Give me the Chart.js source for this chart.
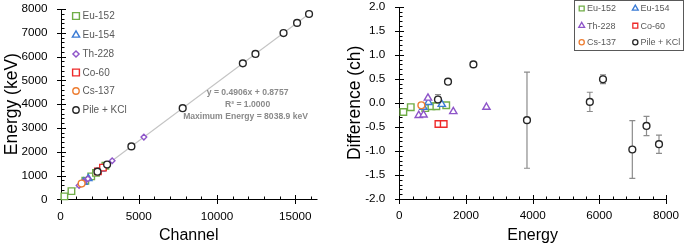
<!DOCTYPE html>
<html><head><meta charset="utf-8">
<script src="https://cdn.jsdelivr.net/npm/chart.js@4.4.1/dist/chart.umd.min.js"></script>
<style>
html,body{margin:0;padding:0;background:#fff;}
#wrap{position:relative;width:685px;height:245px;overflow:hidden;}
#c1{position:absolute;left:0;top:0;}
#c2{position:absolute;left:340px;top:0;}
</style></head><body>
<div id="wrap"><canvas id="c1" width="340" height="245"></canvas><canvas id="c2" width="345" height="245"></canvas></div>
<script>
// ---------- DATA ----------
const seriesNames = ['Eu-152', 'Eu-154', 'Th-228', 'Co-60', 'Cs-137', 'Pile + KCl'];

const eu152Energy  = [122, 344, 779, 964, 1112, 1408];
const eu152Channel = [247, 699, 1586, 1963, 2265, 2868];
const eu152Diff    = [-0.19, -0.09, -0.11, -0.07, -0.07, -0.05];

const eu154Energy  = [723, 873, 1274];
const eu154Channel = [1472, 1778, 2595];
const eu154Diff    = [-0.09, 0.01, -0.03];

const th228Energy  = [583, 727, 860, 1620, 2614];
const th228Channel = [1187, 1480, 1751, 3300, 5326];
const th228Diff    = [-0.26, -0.25, 0.10, -0.18, -0.09];

const co60Energy  = [1173, 1332];
const co60Channel = [2389, 2713];
const co60Diff    = [-0.44, -0.44];

const cs137Energy  = [662];
const cs137Channel = [1348];
const cs137Diff    = [-0.05];

const pileEnergy  = [1160, 1461, 2223, 3830, 5715, 6110, 6990, 7415, 7790];
const pileChannel = [2363, 2976, 4529, 7805, 11647, 12452, 14246, 15112, 15876];
const pileDiff    = [0.07, 0.44, 0.80, -0.36, 0.02, 0.49, -0.97, -0.48, -0.86];
const pileErr     = [0.10, 0.02, 0.02, 1.00, 0.20, 0.09, 0.60, 0.20, 0.19];

const fitSlope = [0.4906];
const fitIntercept = [0.8757];
const fitChannelRange = [0, 16000];
const fitLabels = ['y = 0.4906x + 0.8757', 'R\u00B2 = 1.0000', 'Maximum Energy = 8038.9 keV'];

const leftXTicks  = [0, 5000, 10000, 15000];
const leftYTicks  = [0, 1000, 2000, 3000, 4000, 5000, 6000, 7000, 8000];
const rightXTicks = [0, 2000, 4000, 6000, 8000];
const rightYTicks = [-2, -1.5, -1, -0.5, 0, 0.5, 1, 1.5, 2];

// ---------- STYLE ----------
const FONT = "'Liberation Sans', Arial, sans-serif";
const colors = ['#70AD47', '#3A7BD5', '#8E55C9', '#EE2A2A', '#ED7D31', '#262626'];
const leftStyles  = ['rect', 'triangle', 'rectRot', 'rect', 'circle', 'circle'];
const rightStyles = ['rect', 'triangle', 'triangle', 'rect', 'circle', 'circle'];
const radiusFor = {rect: 4.6, triangle: 4.2, rectRot: 2.8, circle: 3.4};

const chans = [eu152Channel, eu154Channel, th228Channel, co60Channel, cs137Channel, pileChannel];
const ens   = [eu152Energy, eu154Energy, th228Energy, co60Energy, cs137Energy, pileEnergy];
const diffs = [eu152Diff, eu154Diff, th228Diff, co60Diff, cs137Diff, pileDiff];

function drawMarker(ctx, style, r, x, y, color, lw) {
  ctx.save();
  ctx.fillStyle = '#fff'; ctx.strokeStyle = color; ctx.lineWidth = lw;
  Chart.helpers.drawPoint(ctx, {pointStyle: style, radius: r, rotation: 0, borderWidth: lw}, x, y);
  ctx.restore();
}

function axesPlugin(spec) {
  return {
    id: 'axesTicks',
    beforeDatasetsDraw(chart) {
      const {ctx, chartArea: a, scales: {x, y}} = chart;
      ctx.save();
      ctx.strokeStyle = '#000'; ctx.lineWidth = 1;
      const X0 = Math.round(a.left) + 0.5, Y0 = Math.round(a.bottom) + 0.5;
      const xEnd = Math.round(x.getPixelForValue(x.max)) + 0.5;
      const yTop = Math.round(y.getPixelForValue(y.max)) + 0.5;
      ctx.beginPath();
      ctx.moveTo(X0, yTop); ctx.lineTo(X0, Y0);
      ctx.moveTo(X0, Y0); ctx.lineTo(xEnd, Y0);
      ctx.stroke();
      ctx.beginPath();
      const nx = Math.floor((x.max - x.min) / spec.xMinor + 1e-6);
      for (let i = 0; i <= nx; i++) {
        const v = x.min + i * spec.xMinor;
        const p = Math.round(x.getPixelForValue(v)) + 0.5;
        const q = v / spec.xMajor;
        if (Math.abs(q - Math.round(q)) < 1e-6) { ctx.moveTo(p, Y0 - 4.5); ctx.lineTo(p, Y0 + 4.5); }
        else { ctx.moveTo(p, Y0 - 3); ctx.lineTo(p, Y0); }
      }
      const ny = Math.round((y.max - y.min) / spec.yMinor);
      for (let i = 0; i <= ny; i++) {
        const v = y.min + i * spec.yMinor;
        const p = Math.round(y.getPixelForValue(v)) + 0.5;
        const q = v / spec.yMajor;
        if (Math.abs(q - Math.round(q)) < 1e-6) { ctx.moveTo(X0 - 4.5, p); ctx.lineTo(X0 + 4.5, p); }
        else { ctx.moveTo(X0, p); ctx.lineTo(X0 + 3, p); }
      }
      ctx.stroke();
      ctx.restore();
    }
  };
}

function tickFont() { return {family: FONT, size: 11.7}; }
function fitX(h) { return sc => { sc.height = h; sc.paddingLeft = 0; sc.paddingRight = 0; }; }
function fitY(w) { return sc => { sc.width = w; sc.paddingTop = 0; sc.paddingBottom = 0; }; }

// ---------- LEFT CHART ----------
const leftDatasets = seriesNames.map((name, s) => ({
  label: name,
  data: chans[s].map((c, i) => ({x: c, y: ens[s][i]})),
  pointStyle: leftStyles[s],
  pointRadius: radiusFor[leftStyles[s]],
  pointHoverRadius: radiusFor[leftStyles[s]],
  borderColor: colors[s],
  backgroundColor: '#ffffff',
  pointBorderWidth: 1.4,
  showLine: false,
  clip: false,
  order: 6 - s
}));
leftDatasets.push({
  label: 'fit',
  data: fitChannelRange.map(c => ({x: c, y: fitSlope[0] * c + fitIntercept[0]})),
  showLine: true,
  borderColor: '#C4C4C4',
  borderWidth: 1.1,
  pointRadius: 0,
  order: 20
});

const leftLegend = {
  id: 'leftLegend',
  afterDatasetsDraw(chart) {
    const ctx = chart.ctx;
    ctx.save();
    ctx.font = '10px ' + FONT;
    ctx.fillStyle = '#595959';
    ctx.textBaseline = 'middle';
    const rows = [16, 35, 54, 72.5, 91, 110];
    const rr = {rect: 4.8, triangle: 4.2, rectRot: 3.1, circle: 3.2};
    seriesNames.forEach((n, s) => {
      drawMarker(ctx, leftStyles[s], rr[leftStyles[s]], 76, rows[s], colors[s], 1.4);
      ctx.fillText(n, 82.5, rows[s] + 0.5);
    });
    // fit annotation
    const cx = chart.scales.x.getPixelForValue(11950);
    const cy = chart.scales.y.getPixelForValue(4470);
    ctx.font = 'bold 8.6px ' + FONT;
    ctx.fillStyle = '#8A8A8A';
    ctx.textAlign = 'center';
    fitLabels.forEach((t, i) => ctx.fillText(t, cx - (i === 2 ? 2 : 0), cy + i * 11.6));
    ctx.restore();
  }
};

new Chart(document.getElementById('c1'), {
  type: 'scatter',
  data: {datasets: leftDatasets},
  options: {
    responsive: false, animation: false, devicePixelRatio: 1,
    layout: {padding: {left: 0, right: 23, top: 9, bottom: 0}},
    plugins: {legend: {display: false}, tooltip: {enabled: false}},
    scales: {
      x: {
        type: 'linear', min: 0, max: 16384,
        grid: {display: false, drawTicks: false}, border: {display: false},
        afterBuildTicks: sc => { sc.ticks = leftXTicks.map(v => ({value: v})); },
        afterFit: fitX(45.7),
        ticks: {font: tickFont(), color: '#000', padding: 10, maxRotation: 0, callback: v => String(v)},
        title: {display: true, text: 'Channel', color: '#000', font: {family: FONT, size: 16}, padding: {top: 0, bottom: 0}}
      },
      y: {
        type: 'linear', min: 0, max: 8000,
        grid: {display: false, drawTicks: false}, border: {display: false},
        afterBuildTicks: sc => { sc.ticks = leftYTicks.map(v => ({value: v})); },
        afterFit: fitY(60.5),
        ticks: {font: tickFont(), color: '#000', padding: 13, callback: v => String(v)},
        title: {display: true, text: 'Energy (keV)', color: '#000', font: {family: FONT, size: 17.5}, padding: {top: 2, bottom: 0}}
      }
    }
  },
  plugins: [axesPlugin({xMajor: 5000, xMinor: 1000, yMajor: 1000, yMinor: 200}), leftLegend]
});

// ---------- RIGHT CHART ----------
const rightDatasets = seriesNames.map((name, s) => ({
  label: name,
  data: ens[s].map((e, i) => ({x: e, y: diffs[s][i]})),
  pointStyle: rightStyles[s],
  pointRadius: radiusFor[rightStyles[s]],
  pointHoverRadius: radiusFor[rightStyles[s]],
  borderColor: colors[s],
  backgroundColor: '#ffffff',
  pointBorderWidth: 1.4,
  showLine: false,
  clip: false,
  order: 6 - s
}));

const errorBars = {
  id: 'errorBars',
  beforeDatasetsDraw(chart) {
    const {ctx, scales: {x, y}} = chart;
    ctx.save();
    ctx.strokeStyle = '#8C8C8C'; ctx.lineWidth = 1.2;
    ctx.beginPath();
    pileEnergy.forEach((e, i) => {
      const px = x.getPixelForValue(e);
      const yt = y.getPixelForValue(pileDiff[i] + pileErr[i]);
      const yb = y.getPixelForValue(pileDiff[i] - pileErr[i]);
      ctx.moveTo(px, yt); ctx.lineTo(px, yb);
      ctx.moveTo(px - 3, yt); ctx.lineTo(px + 3, yt);
      ctx.moveTo(px - 3, yb); ctx.lineTo(px + 3, yb);
    });
    ctx.stroke();
    ctx.restore();
  }
};

const rightLegend = {
  id: 'rightLegend',
  afterDatasetsDraw(chart) {
    const ctx = chart.ctx;
    ctx.save();
    ctx.fillStyle = '#fff';
    ctx.fillRect(234.5, 0.5, 109, 50);
    ctx.strokeStyle = '#595959'; ctx.lineWidth = 1;
    ctx.strokeRect(234.5, 0.5, 109, 50);
    ctx.font = '9px ' + FONT;
    ctx.fillStyle = '#595959';
    ctx.textBaseline = 'middle';
    const rr = {rect: 3.5, triangle: 3.4, circle: 2.6};
    const cols = [241.7, 295.3];
    const rows = [8.5, 25.7, 42.3];
    seriesNames.forEach((n, s) => {
      const c = s % 2, r = Math.floor(s / 2);
      drawMarker(ctx, rightStyles[s], rr[rightStyles[s]], cols[c], rows[r], colors[s], 1.3);
      ctx.fillText(n, cols[c] + 5.3, rows[r] + 0.5);
    });
    ctx.restore();
  }
};

new Chart(document.getElementById('c2'), {
  type: 'scatter',
  data: {datasets: rightDatasets},
  options: {
    responsive: false, animation: false, devicePixelRatio: 1,
    layout: {padding: {left: 0, right: 19, top: 6.7, bottom: 0}},
    plugins: {legend: {display: false}, tooltip: {enabled: false}},
    scales: {
      x: {
        type: 'linear', min: 0, max: 8000,
        grid: {display: false, drawTicks: false}, border: {display: false},
        afterBuildTicks: sc => { sc.ticks = rightXTicks.map(v => ({value: v})); },
        afterFit: fitX(46),
        ticks: {font: tickFont(), color: '#000', padding: 10, maxRotation: 0, callback: v => String(v)},
        title: {display: true, text: 'Energy', color: '#000', font: {family: FONT, size: 16}, padding: {top: 0, bottom: 0}}
      },
      y: {
        type: 'linear', min: -2, max: 2,
        grid: {display: false, drawTicks: false}, border: {display: false},
        afterBuildTicks: sc => { sc.ticks = rightYTicks.map(v => ({value: v})); },
        afterFit: fitY(59.3),
        ticks: {font: tickFont(), color: '#000', padding: 14, callback: v => Number(v).toFixed(1)},
        title: {display: true, text: 'Difference (ch)', color: '#000', font: {family: FONT, size: 17.5}, padding: {top: 4.5, bottom: 0}}
      }
    }
  },
  plugins: [axesPlugin({xMajor: 2000, xMinor: 400, yMajor: 0.5, yMinor: 0.1}), errorBars, rightLegend]
});
</script>
</body></html>
